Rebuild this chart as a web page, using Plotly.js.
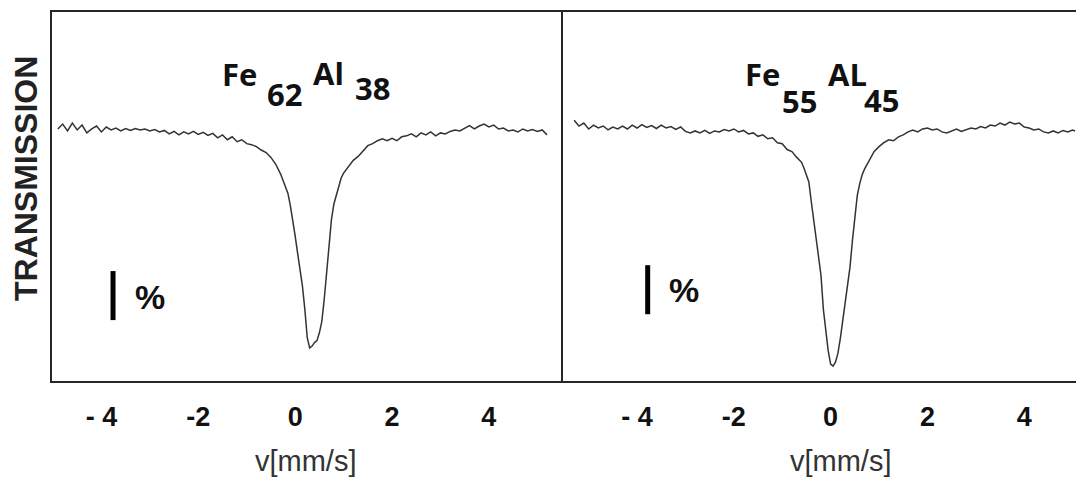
<!DOCTYPE html>
<html>
<head>
<meta charset="utf-8">
<script src="https://cdn.plot.ly/plotly-3.0.1.min.js"></script>
<style>
html,body{margin:0;padding:0;background:#fff;}
#chart{width:1076px;height:477px;}
</style>
</head>
<body>
<div id="chart"></div>
<script>
// ---- Data ----
// Fe62Al38 spectrum: velocity (mm/s) and relative transmission (%)
const v62 = [-4.9,-4.8,-4.7,-4.6,-4.5,-4.4,-4.3,-4.2,-4.1,-4.0,-3.9,-3.8,-3.7,-3.6,-3.5,-3.4,-3.3,-3.2,-3.1,-3.0,
  -2.9,-2.8,-2.7,-2.6,-2.5,-2.4,-2.3,-2.2,-2.1,-2.0,-1.9,-1.8,-1.7,-1.6,-1.5,-1.4,-1.3,-1.2,-1.1,-1.0,
  -0.9,-0.8,-0.7,-0.6,-0.5,-0.4,-0.3,-0.25,-0.2,-0.15,-0.1,-0.05,0.0,0.05,0.1,0.15,0.2,0.25,0.3,0.35,
  0.4,0.45,0.5,0.55,0.6,0.65,0.7,0.75,0.8,0.85,0.9,0.95,1.0,1.1,1.2,1.3,1.4,1.5,1.6,1.7,
  1.8,1.9,2.0,2.1,2.2,2.3,2.4,2.5,2.6,2.7,2.8,2.9,3.0,3.1,3.2,3.3,3.4,3.5,3.6,3.7,
  3.8,3.9,4.0,4.1,4.2,4.3,4.4,4.5,4.6,4.7,4.8,4.9,5.0,5.1,5.2];
const t62 = [99.98,100.08,99.94,100.10,99.96,100.06,99.90,99.98,100.04,99.92,100.02,99.96,100.00,99.94,99.99,99.95,99.99,99.96,99.98,99.94,
  99.97,99.92,99.95,99.88,99.93,99.86,99.92,99.88,99.93,99.87,99.91,99.85,99.89,99.80,99.86,99.76,99.82,99.72,99.76,99.68,
  99.66,99.62,99.55,99.50,99.40,99.26,99.06,98.94,98.80,98.67,98.42,98.14,97.80,97.45,97.12,96.78,96.30,95.72,95.51,95.55,
  95.62,95.66,95.82,96.05,96.50,97.05,97.50,98.14,98.45,98.62,98.84,98.98,99.08,99.22,99.34,99.42,99.52,99.64,99.68,99.74,
  99.78,99.74,99.79,99.74,99.82,99.84,99.88,99.82,99.90,99.86,99.92,99.84,99.90,99.88,99.93,99.96,99.94,100.00,100.05,99.98,
  100.04,100.08,100.02,100.06,99.98,100.00,99.94,99.96,99.92,99.98,99.94,99.97,99.93,99.96,99.86];

// Fe55Al45 spectrum
const v55 = [-5.3,-5.2,-5.1,-5.0,-4.9,-4.8,-4.7,-4.6,-4.5,-4.4,-4.3,-4.2,-4.1,-4.0,-3.9,-3.8,-3.7,-3.6,-3.5,-3.4,
  -3.3,-3.2,-3.1,-3.0,-2.9,-2.8,-2.7,-2.6,-2.5,-2.4,-2.3,-2.2,-2.1,-2.0,-1.9,-1.8,-1.7,-1.6,-1.5,-1.4,
  -1.3,-1.2,-1.1,-1.0,-0.9,-0.8,-0.7,-0.6,-0.55,-0.5,-0.45,-0.4,-0.35,-0.3,-0.25,-0.2,-0.15,-0.1,-0.05,0.0,
  0.05,0.1,0.15,0.2,0.25,0.3,0.35,0.4,0.45,0.5,0.55,0.6,0.65,0.7,0.8,0.9,1.0,1.1,1.2,1.3,
  1.4,1.5,1.6,1.7,1.8,1.9,2.0,2.1,2.2,2.3,2.4,2.5,2.6,2.7,2.8,2.9,3.0,3.1,3.2,3.3,
  3.4,3.5,3.6,3.7,3.8,3.9,4.0,4.1,4.2,4.3,4.4,4.5,4.6,4.7,4.8,4.9,5.0,5.05];
const t55 = [100.16,100.04,100.10,99.98,100.06,100.00,100.04,99.96,100.02,99.98,100.04,99.98,100.06,100.00,100.07,100.01,100.05,99.99,100.06,100.00,
  100.03,99.97,100.02,99.93,99.90,99.94,99.90,99.95,99.89,99.94,99.92,99.97,99.94,99.98,99.92,99.95,99.88,99.90,99.83,99.86,
  99.78,99.80,99.70,99.68,99.56,99.52,99.40,99.30,99.18,99.06,98.90,98.50,98.10,97.75,97.40,97.00,96.30,95.85,95.45,95.18,
  95.14,95.22,95.40,95.70,96.05,96.40,96.80,97.16,97.70,98.20,98.62,98.86,99.04,99.16,99.34,99.52,99.62,99.70,99.76,99.74,
  99.82,99.86,99.92,99.96,99.92,99.98,100.00,99.96,99.98,99.92,99.90,99.94,99.98,99.93,99.97,100.00,99.98,100.03,100.00,100.06,
  100.04,100.10,100.06,100.12,100.08,100.10,100.02,100.00,99.96,99.98,99.92,99.90,99.94,99.90,99.95,99.92,99.96,99.94];

const tickVals = [-4, -2, 0, 2, 4];
const tickText = ['- 4', '-2', '0', '2', '4'];
const titleLeft = ['Fe', '62', 'Al', '38'];
const titleRight = ['Fe', '55', 'AL', '45'];
const xTitle = 'v[mm/s]';
const yTitle = 'TRANSMISSION';
const scaleLabel = '%';

// ---- Layout helpers ----
const W = 1076, H = 477, ML = 52, MT = 12, MB = 96, MR = 0;
const PW = W - ML - MR, PH = H - MT - MB;
const px = x => (x - ML) / PW;          // pixel -> paper x
const py = y => (H - MB - y) / PH;      // pixel -> paper y

const lineColor = '#262626';
const curveColor = '#333333';
const yRange = [94.837, 102.367];

const traces = [
  {x: v62, y: t62, xaxis: 'x', yaxis: 'y', type: 'scatter', mode: 'lines',
   line: {color: curveColor, width: 1.5}, hoverinfo: 'skip', showlegend: false},
  {x: v55, y: t55, xaxis: 'x2', yaxis: 'y2', type: 'scatter', mode: 'lines',
   line: {color: curveColor, width: 1.5}, hoverinfo: 'skip', showlegend: false}
];

const tickFont = {family: 'Liberation Sans, Arial, sans-serif', size: 27, color: '#111', weight: 'bold'};
const axBase = {
  showgrid: false, zeroline: false, showline: true, mirror: true,
  linecolor: lineColor, linewidth: 2, ticks: '',
  tickvals: tickVals, ticktext: tickText, tickfont: tickFont,
  ticklabelstandoff: 11
};

const titleFont = {family: 'Open Sans, Noto Sans, sans-serif', size: 31, color: '#111', weight: 'bold'};
function titleAnn(text, x, y) {
  return {text: '<b>' + text + '</b>', xref: 'paper', yref: 'paper', x: px(x), y: py(y),
    xanchor: 'center', yanchor: 'middle', showarrow: false, font: titleFont};
}

const annotations = [
  titleAnn(titleLeft[0], 239, 74), titleAnn(titleLeft[1], 284, 94),
  titleAnn(titleLeft[2], 328, 73), titleAnn(titleLeft[3], 372, 88),
  titleAnn(titleRight[0], 762, 74), titleAnn(titleRight[1], 799, 101),
  titleAnn(titleRight[2], 847, 74), titleAnn(titleRight[3], 881, 100),
  {text: '<b>' + scaleLabel + '</b>', xref: 'paper', yref: 'paper', x: px(150), y: py(297),
   xanchor: 'center', yanchor: 'middle', showarrow: false,
   font: {family: 'Liberation Sans, Arial, sans-serif', size: 34, color: '#111'}},
  {text: '<b>' + scaleLabel + '</b>', xref: 'paper', yref: 'paper', x: px(684), y: py(290),
   xanchor: 'center', yanchor: 'middle', showarrow: false,
   font: {family: 'Liberation Sans, Arial, sans-serif', size: 34, color: '#111'}},
  {text: xTitle, xref: 'paper', yref: 'paper', x: px(306), y: py(461),
   xanchor: 'center', yanchor: 'middle', showarrow: false,
   font: {family: 'Liberation Sans, Arial, sans-serif', size: 29, color: '#333'}},
  {text: xTitle, xref: 'paper', yref: 'paper', x: px(841), y: py(461),
   xanchor: 'center', yanchor: 'middle', showarrow: false,
   font: {family: 'Liberation Sans, Arial, sans-serif', size: 29, color: '#333'}},
  {text: '<b>' + yTitle + '</b>', xref: 'paper', yref: 'paper', x: px(26), y: py(179),
   xanchor: 'center', yanchor: 'middle', textangle: -90, showarrow: false,
   font: {family: 'Liberation Sans, Arial, sans-serif', size: 32, color: '#222'}}
];

const shapes = [
  {type: 'line', xref: 'x', yref: 'y', x0: -3.76, x1: -3.76, y0: 96.08, y1: 97.08,
   line: {color: '#000', width: 5}},
  {type: 'line', xref: 'x2', yref: 'y2', x0: -3.78, x1: -3.78, y0: 96.20, y1: 97.20,
   line: {color: '#000', width: 5}}
];

const split = 511 / PW;
const layout = {
  width: W, height: H,
  margin: {l: ML, r: MR, t: MT, b: MB, pad: 0},
  paper_bgcolor: '#fff', plot_bgcolor: '#fff',
  showlegend: false,
  xaxis: Object.assign({}, axBase, {domain: [0, split], range: [-5.02, 5.53], anchor: 'y'}),
  xaxis2: Object.assign({}, axBase, {domain: [split, 1], range: [-5.53, 5.07], anchor: 'y2'}),
  yaxis: {domain: [0, 1], range: yRange, showgrid: false, zeroline: false, showline: true,
    mirror: false, linecolor: lineColor, linewidth: 2, ticks: '', showticklabels: false, anchor: 'x'},
  yaxis2: {domain: [0, 1], range: yRange, showgrid: false, zeroline: false, showline: true,
    mirror: false, linecolor: lineColor, linewidth: 2, ticks: '', showticklabels: false, anchor: 'x2'},
  annotations: annotations,
  shapes: shapes
};

Plotly.newPlot('chart', traces, layout, {staticPlot: true, displayModeBar: false});
</script>
</body>
</html>
